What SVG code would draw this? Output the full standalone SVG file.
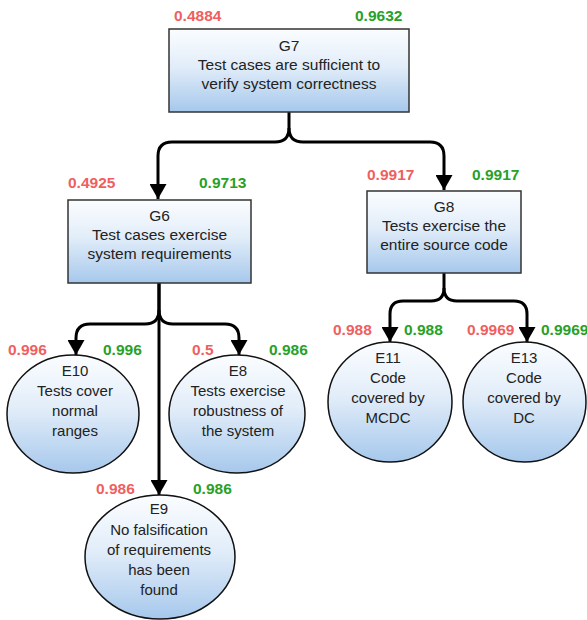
<svg xmlns="http://www.w3.org/2000/svg" width="587" height="620" viewBox="0 0 587 620">
  <defs>
    <linearGradient id="fillBlue" x1="0" y1="0" x2="0" y2="1">
      <stop offset="0" stop-color="#fbfdff"/>
      <stop offset="0.45" stop-color="#e2edf9"/>
      <stop offset="1" stop-color="#a6c8ec"/>
    </linearGradient>
    <marker id="arrow" markerUnits="userSpaceOnUse" markerWidth="16" markerHeight="17" viewBox="0 0 16 17" refX="15" refY="8.5" orient="auto">
      <path d="M0,0 L15,8.5 L0,17 Z" fill="#000"/>
    </marker>
    <style>
      .goal { fill: url(#fillBlue); stroke: #333; stroke-width: 1.5; }
      .evid { fill: url(#fillBlue); stroke: #111; stroke-width: 1.5; }
      .lbl { font-family: "Liberation Sans", Arial, sans-serif; font-size: 15px; fill: #222; text-anchor: middle; }
      .big { font-size: 15.5px; }
      .num { font-family: "Liberation Sans", Arial, sans-serif; font-size: 15.5px; font-weight: bold; }
      .red { fill: #ef5f5f; }
      .grn { fill: #27a127; }
      .conn { fill: none; stroke: #000; stroke-width: 3; }
    </style>
  </defs>

  <rect width="587" height="620" fill="#fff"/>

  <!-- connectors -->
  <g id="connectors">
    <path class="conn" d="M289,112 V128 Q289,142 275,142 H172 Q158,142 158,156 V199" marker-end="url(#arrow)"/>
    <path class="conn" d="M289,128 Q289,142 303,142 H430 Q444,142 444,156 V190" marker-end="url(#arrow)"/>
    <path class="conn" d="M159,283 V310 Q159,324 145,324 H90 Q76,324 76,338 V355" marker-end="url(#arrow)"/>
    <path class="conn" d="M159,310 Q159,324 173,324 H225 Q239,324 239,338 V355" marker-end="url(#arrow)"/>
    <path class="conn" d="M159,283 V495" marker-end="url(#arrow)"/>
    <path class="conn" d="M444,273 V288 Q444,301 431,301 H403 Q390,301 390,314 V342" marker-end="url(#arrow)"/>
    <path class="conn" d="M444,288 Q444,301 457,301 H514 Q527,301 527,314 V342" marker-end="url(#arrow)"/>
  </g>

  <!-- goal G7 -->
  <g id="G7">
    <rect class="goal" x="169" y="29" width="240" height="83"/>
    <text class="lbl big" x="289" y="51">G7</text>
    <text class="lbl big" x="289" y="70">Test cases are sufficient to</text>
    <text class="lbl big" x="289" y="89">verify system correctness</text>
    <text class="num red" x="174" y="21">0.4884</text>
    <text class="num grn" x="355" y="21">0.9632</text>
  </g>

  <!-- goal G6 -->
  <g id="G6">
    <rect class="goal" x="68" y="200" width="183" height="83"/>
    <text class="lbl big" x="159.5" y="221">G6</text>
    <text class="lbl big" x="159.5" y="240">Test cases exercise</text>
    <text class="lbl big" x="159.5" y="259">system requirements</text>
    <text class="num red" x="68" y="188">0.4925</text>
    <text class="num grn" x="199" y="188">0.9713</text>
  </g>

  <!-- goal G8 -->
  <g id="G8">
    <rect class="goal" x="367" y="191" width="154" height="82"/>
    <text class="lbl big" x="444" y="212">G8</text>
    <text class="lbl big" x="444" y="231">Tests exercise the</text>
    <text class="lbl big" x="444" y="250">entire source code</text>
    <text class="num red" x="367" y="180">0.9917</text>
    <text class="num grn" x="472" y="180">0.9917</text>
  </g>

  <!-- evidence E10 -->
  <g id="E10">
    <ellipse class="evid" cx="73" cy="414" rx="66" ry="59"/>
    <text class="lbl" x="75" y="376">E10</text>
    <text class="lbl" x="75" y="396">Tests cover</text>
    <text class="lbl" x="75" y="416">normal</text>
    <text class="lbl" x="75" y="436">ranges</text>
    <text class="num red" x="8" y="355">0.996</text>
    <text class="num grn" x="103" y="355">0.996</text>
  </g>

  <!-- evidence E8 -->
  <g id="E8">
    <ellipse class="evid" cx="237" cy="414" rx="68" ry="59"/>
    <text class="lbl" x="238" y="376">E8</text>
    <text class="lbl" x="238" y="396">Tests exercise</text>
    <text class="lbl" x="238" y="416">robustness of</text>
    <text class="lbl" x="238" y="436">the system</text>
    <text class="num red" x="192" y="355">0.5</text>
    <text class="num grn" x="269" y="355">0.986</text>
  </g>

  <!-- evidence E9 -->
  <g id="E9">
    <ellipse class="evid" cx="160" cy="557" rx="75" ry="62"/>
    <text class="lbl" x="159" y="514">E9</text>
    <text class="lbl" x="159" y="535">No falsification</text>
    <text class="lbl" x="159" y="555">of requirements</text>
    <text class="lbl" x="159" y="575">has been</text>
    <text class="lbl" x="159" y="595">found</text>
    <text class="num red" x="96" y="494">0.986</text>
    <text class="num grn" x="193" y="494">0.986</text>
  </g>

  <!-- evidence E11 -->
  <g id="E11">
    <ellipse class="evid" cx="390" cy="402" rx="62" ry="60"/>
    <text class="lbl" x="388" y="363">E11</text>
    <text class="lbl" x="388" y="383">Code</text>
    <text class="lbl" x="388" y="403">covered by</text>
    <text class="lbl" x="388" y="423">MCDC</text>
    <text class="num red" x="333" y="335">0.988</text>
    <text class="num grn" x="404" y="335">0.988</text>
  </g>

  <!-- evidence E13 -->
  <g id="E13">
    <ellipse class="evid" cx="524.5" cy="402" rx="61.5" ry="60"/>
    <text class="lbl" x="524" y="363">E13</text>
    <text class="lbl" x="524" y="383">Code</text>
    <text class="lbl" x="524" y="403">covered by</text>
    <text class="lbl" x="524" y="423">DC</text>
    <text class="num red" x="467" y="335">0.9969</text>
    <text class="num grn" x="541" y="335">0.9969</text>
  </g>
</svg>
